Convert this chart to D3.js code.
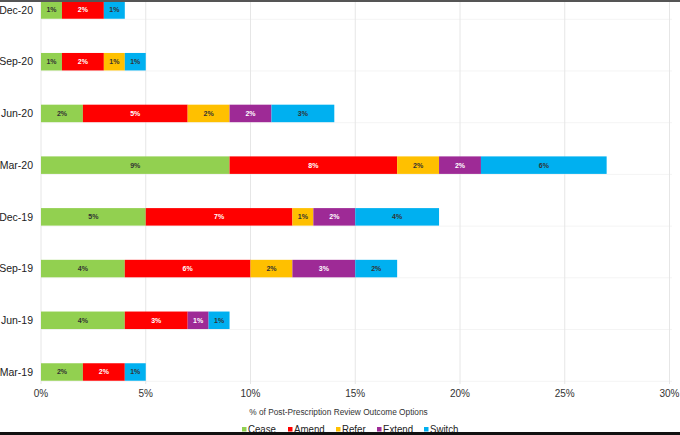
<!DOCTYPE html>
<html>
<head>
<meta charset="utf-8">
<script src="https://cdn.jsdelivr.net/npm/d3@7"></script>
<style>
  body { margin: 0; background: #fff; }
  svg { display: block; font-family: "Liberation Sans", Arial, sans-serif; }
</style>
</head>
<body>
<div class="container"></div>
<script>
// quarters, top row first
const categories = ["Dec-20", "Sep-20", "Jun-20", "Mar-20", "Dec-19", "Sep-19", "Jun-19", "Mar-19"]
const seriesNames = ["Cease", "Amend", "Refer", "Extend", "Switch"]
const cease  = [1, 1, 2, 9, 5, 4, 4, 2]
const amend  = [2, 2, 5, 8, 7, 6, 3, 2]
const refer  = [0, 1, 2, 2, 1, 2, 0, 0]
const extend = [0, 0, 2, 2, 2, 3, 1, 0]
const swtch  = [1, 1, 3, 6, 4, 2, 1, 1]
const xTicks = [0, 5, 10, 15, 20, 25, 30]
const axisTitle = "% of Post-Prescription Review Outcome Options"

const colors = ["#92d050", "#ff0000", "#ffc000", "#9e2a96", "#00b0f0"]
const labelColors = ["#333", "#fff", "#333", "#fff", "#333"]

let width = 680
let height = 435

let svg = d3.select(".container")
  .append("svg")
  .attr("width", width)
  .attr("height", height)

let x = d3.scaleLinear().domain([0, 30]).range([41, 669.5])
let y = d3.scalePoint().domain(categories).range([10, 372])
let barH = 17.5

// gridlines
svg.selectAll(".hgrid")
  .data(categories)
  .enter()
  .append("line")
  .attr("x1", 41)
  .attr("x2", 672)
  .attr("y1", function (d) { return y(d) + barH / 2 + 0.5; })
  .attr("y2", function (d) { return y(d) + barH / 2 + 0.5; })
  .attr("stroke", "#f4f4f4")

svg.selectAll(".vgrid")
  .data(xTicks)
  .enter()
  .append("line")
  .attr("x1", function (d) { return x(d); })
  .attr("x2", function (d) { return x(d); })
  .attr("y1", 0)
  .attr("y2", 384)
  .attr("stroke", "#e6e6e6")

// stack rows
let rows = categories.map(function (c, i) {
  return { cat: c, Cease: cease[i], Amend: amend[i], Refer: refer[i], Extend: extend[i], Switch: swtch[i] }
})
let stacked = d3.stack().keys(seriesNames)(rows)

let layers = svg.selectAll(".layer")
  .data(stacked)
  .enter()
  .append("g")
  .attr("class", "layer")

layers.each(function (s, si) {
  let segs = s.filter(function (d) { return d[1] > d[0]; })
  let g = d3.select(this)

  g.selectAll("rect")
    .data(segs)
    .enter()
    .append("rect")
    .attr("x", function (d) { return x(d[0]); })
    .attr("width", function (d) { return x(d[1]) - x(d[0]); })
    .attr("y", function (d) { return y(d.data.cat) - barH / 2; })
    .attr("height", barH)
    .style("fill", colors[si])

  g.selectAll("text")
    .data(segs)
    .enter()
    .append("text")
    .attr("x", function (d) { return (x(d[0]) + x(d[1])) / 2; })
    .attr("y", function (d) { return y(d.data.cat); })
    .attr("dy", "0.35em")
    .attr("text-anchor", "middle")
    .attr("font-size", "7px")
    .attr("font-weight", "bold")
    .attr("fill", labelColors[si])
    .text(function (d) { return (d[1] - d[0]) + "%"; })
})

// category labels
svg.selectAll(".catLabel")
  .data(categories)
  .enter()
  .append("text")
  .attr("x", 33)
  .attr("y", function (d) { return y(d); })
  .attr("dy", "0.35em")
  .attr("text-anchor", "end")
  .attr("font-size", "10.5px")
  .attr("fill", "#222")
  .text(function (d) { return d; })

// x tick labels
svg.selectAll(".tick")
  .data(xTicks)
  .enter()
  .append("text")
  .attr("x", function (d) { return x(d); })
  .attr("y", 397)
  .attr("text-anchor", "middle")
  .attr("font-size", "10px")
  .attr("fill", "#333")
  .text(function (d) { return d + "%"; })

svg.append("text")
  .attr("x", 338.5)
  .attr("y", 415)
  .attr("text-anchor", "middle")
  .attr("font-size", "8.3px")
  .attr("fill", "#333")
  .text(axisTitle)

// legend (condensed look of the original)
let legendX = [242, 288, 336, 377, 424]
let legend = svg.selectAll(".legend")
  .data(seriesNames)
  .enter()
  .append("g")
  .attr("transform", function (d, i) { return "translate(" + legendX[i] + ",0)"; })

legend.append("rect")
  .attr("x", 0)
  .attr("y", 427)
  .attr("width", 4.5)
  .attr("height", 4.5)
  .style("fill", function (d, i) { return colors[i]; })

legend.append("text")
  .attr("transform", "translate(6,432.5) scale(0.88,1)")
  .attr("font-size", "11px")
  .attr("fill", "#222")
  .text(function (d) { return d; })

// frame edges of the screenshot
svg.append("rect").attr("x", 0).attr("y", 0).attr("width", width).attr("height", 2).style("fill", "#555")
svg.append("rect").attr("x", 0).attr("y", 432).attr("width", width).attr("height", 3).style("fill", "#111")
</script>
</body>
</html>
